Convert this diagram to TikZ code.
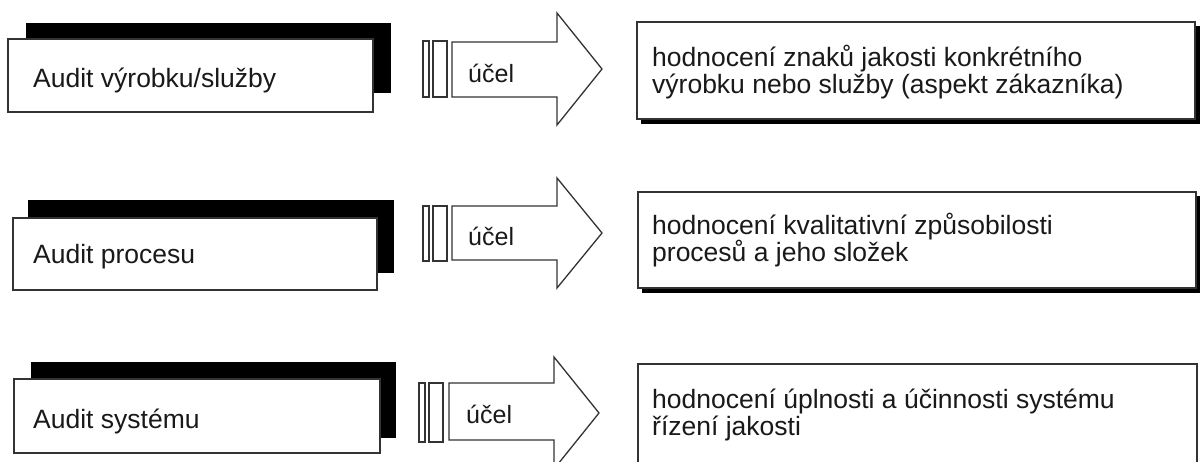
\documentclass[tikz,border=0pt]{standalone}
\usepackage{fontspec}
\setmainfont{Liberation Sans}
\tikzset{
  px/.style={x=1pt,y=-1pt},
  lbl/.style={anchor=base west, inner sep=0pt, text=black!90, font=\fontsize{26.5}{30}\selectfont},
  desc/.style={anchor=base west, inner sep=0pt, text=black!90, align=left, font=\fontsize{26.5}{27}\selectfont},
  ucel/.style={anchor=base west, inner sep=0pt, text=black!90, font=\fontsize{25}{28}\selectfont},
  shadowfill/.style={fill=black, draw=black, line width=0.8pt},
  boxface/.style={fill=white, draw=black!80, line width=1.4pt},
  arrowline/.style={fill=white, draw=black!80, line width=1.3pt, line join=miter},
  barline/.style={fill=white, draw=black!80, line width=1.2pt},
}
\begin{document}
\begin{tikzpicture}[px]
\useasboundingbox (0,0) rectangle (1200,461);
\fill[white] (0,0) rectangle (1200,461);

% ---------- Row 1 ----------
\filldraw[shadowfill] (26,23) rectangle (390,92);
\draw[boxface] (8,39) rectangle (373,112);
\node[lbl] (l1) at (33,87) {Audit výrobku/služby};
\draw[barline] (423,41) rectangle (429,97);
\draw[barline] (433,41) rectangle (447,97);
\draw[arrowline] (452,42) -- (557,42) -- (557,13) -- (602,69) -- (557,125) -- (557,97) -- (452,97) -- cycle;
\node[ucel] (u1) at (468,82) {účel};
\filldraw[shadowfill] (641,26) rectangle (1199,123);
\draw[boxface] (637,22) rectangle (1195,119);
\node[desc] (d1a) at (652,66) {hodnocení znaků jakosti konkrétního};
\node[desc] (d1b) at (652,93) {výrobku nebo služby (aspekt zákazníka)};

% ---------- Row 2 ----------
\filldraw[shadowfill] (28,200) rectangle (393,272);
\draw[boxface] (13,218) rectangle (377,290);
\node[lbl] (l2) at (33,263) {Audit procesu};
\draw[barline] (423,206) rectangle (429,261);
\draw[barline] (433,206) rectangle (447,261);
\draw[arrowline] (452,206) -- (557,206) -- (557,178) -- (602,233) -- (557,288) -- (557,260) -- (452,260) -- cycle;
\node[ucel] (u2) at (468,245) {účel};
\filldraw[shadowfill] (642,196) rectangle (1200,292);
\draw[boxface] (638,192) rectangle (1196,288);
\node[desc] (d2a) at (652,234) {hodnocení kvalitativní způsobilosti};
\node[desc] (d2b) at (652,261) {procesů a jeho složek};

% ---------- Row 3 ----------
\filldraw[shadowfill] (31,362) rectangle (395,437);
\draw[boxface] (14,379) rectangle (380,453);
\node[lbl] (l3) at (33,428) {Audit systému};
\draw[barline] (419,383) rectangle (425,442);
\draw[barline] (429,383) rectangle (443,442);
\draw[arrowline] (449,383) -- (554,383) -- (554,357) -- (599,413) -- (554,469) -- (554,440) -- (449,440) -- cycle;
\node[ucel] (u3) at (466,423) {účel};
\draw[boxface] (638,470) -- (638,364) -- (1197,364) -- (1197,470);
\node[desc] (d3a) at (652,408) {hodnocení úplnosti a účinnosti systému};
\node[desc] (d3b) at (652,435) {řízení jakosti};
\end{tikzpicture}
\end{document}
